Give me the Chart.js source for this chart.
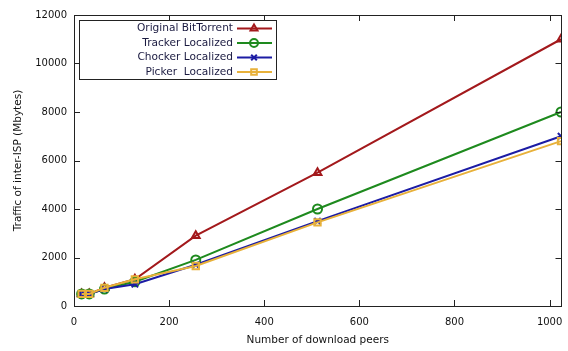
<!DOCTYPE html>
<html>
<head>
<meta charset="utf-8">
<script src="https://cdn.jsdelivr.net/npm/chart.js@4"></script>
<style>
body { margin: 0; background: #fff; }
#wrap { width: 568px; height: 351px; }
</style>
</head>
<body>
<div id="wrap"><canvas id="lineChart"></canvas></div>
<script>
const peers = [16, 32, 64, 128, 256, 512, 1024];
const originalBT = [500, 500, 750, 1100, 2900, 5500, 11000];
const trackerLoc = [500, 500, 700, 1000, 1900, 4000, 8000];
const chockerLoc = [500, 500, 700, 900, 1700, 3500, 7000];
const pickerLoc = [500, 500, 750, 1100, 1650, 3450, 6800];
const xTicks = [0, 200, 400, 600, 800, 1000];
const yTicks = [0, 2000, 4000, 6000, 8000, 10000, 12000];

const FONT = '"DejaVu Sans", sans-serif';
Chart.defaults.font.family = FONT;
Chart.defaults.font.size = 10;
Chart.defaults.color = '#111';

function pts(ys) {
  return peers.map((x, i) => ({ x: x, y: ys[i] }));
}

function series(label, ys, color, style, order) {
  return {
    label: label,
    data: pts(ys),
    borderColor: color,
    backgroundColor: 'rgba(0,0,0,0)',
    borderWidth: 2,
    pointStyle: style,
    pointRadius: 4.5,
    pointBorderWidth: 2,
    pointBorderColor: color,
    order: order
  };
}

// no label overhang padding, the plot box is fixed by layout padding
function noPad(s) {
  s.paddingLeft = s.paddingRight = s.paddingTop = s.paddingBottom = 0;
  s.getPadding = () => ({ left: 0, right: 0, top: 0, bottom: 0 });
}

// inward ticks, full border and the gnuplot style legend
const frame = {
  id: 'frame',
  afterDatasetsDraw(chart) {
    const c = chart.ctx, a = chart.chartArea;
    const xs = chart.scales.x, ys = chart.scales.y;
    c.save();
    c.strokeStyle = '#222';
    c.lineWidth = 1;
    c.beginPath();
    xTicks.forEach(t => {
      const px = Math.round(xs.getPixelForValue(t)) + 0.5;
      c.moveTo(px, a.bottom); c.lineTo(px, a.bottom - 6);
      c.moveTo(px, a.top); c.lineTo(px, a.top + 6);
    });
    yTicks.forEach(t => {
      const py = Math.round(ys.getPixelForValue(t)) + 0.5;
      c.moveTo(a.left, py); c.lineTo(a.left + 6, py);
      c.moveTo(a.right, py); c.lineTo(a.right - 6, py);
    });
    c.stroke();
    c.strokeRect(Math.round(a.left) + 0.5, Math.round(a.top) + 0.5,
      Math.round(a.right - a.left) - 1, Math.round(a.bottom - a.top));

    // legend
    c.fillStyle = '#fff';
    c.fillRect(79.5, 20.5, 197, 59);
    c.strokeRect(79.5, 20.5, 197, 59);
    c.font = '10.6px ' + FONT;
    c.textAlign = 'right';
    c.textBaseline = 'middle';
    const rowY = [28.5, 43, 57.5, 72];
    chart.data.datasets.forEach((ds, r) => {
      const y = rowY[r];
      c.fillStyle = '#1a1a40';
      c.fillText(ds.label, 233, y);
      c.strokeStyle = ds.borderColor;
      c.lineWidth = 2;
      c.beginPath();
      c.moveTo(237, y); c.lineTo(272, y);
      c.stroke();
      c.fillStyle = 'rgba(0,0,0,0)';
      Chart.helpers.drawPoint(c, {
        pointStyle: ds.pointStyle, radius: 4, rotation: 0,
        borderWidth: 2
      }, 254, y);
    });
    c.restore();
  }
};

const ctx = document.getElementById('lineChart');

new Chart(ctx, {
  type: 'line',
  data: {
    datasets: [
      series('Original BitTorrent', originalBT, '#a3191c', 'triangle', 4),
      series('Tracker Localized', trackerLoc, '#1e8a1e', 'circle', 3),
      series('Chocker Localized', chockerLoc, '#1c1ca4', 'crossRot', 2),
      series('Picker  Localized', pickerLoc, '#e8b13a', 'rect', 1)
    ]
  },
  options: {
    responsive: true,
    maintainAspectRatio: false,
    animation: false,
    layout: { padding: { top: 15, right: 2, left: 8, bottom: 0 } },
    plugins: {
      legend: { display: false },
      tooltip: { enabled: false }
    },
    scales: {
      x: {
        type: 'linear',
        min: 0,
        max: 1025,
        afterBuildTicks(s) { s.ticks = xTicks.map(v => ({ value: v })); },
        afterFit(s) { s.height = 45; noPad(s); },
        grid: { display: false, drawTicks: false },
        border: { display: false },
        ticks: { padding: 10, callback: v => String(v) },
        title: { display: true, text: 'Number of download peers', font: { size: 10.5 }, padding: { top: 4 } }
      },
      y: {
        min: 0,
        max: 12000,
        afterBuildTicks(s) { s.ticks = yTicks.map(v => ({ value: v })); },
        afterFit(s) { s.width = 66; noPad(s); },
        grid: { display: false, drawTicks: false },
        border: { display: false },
        ticks: { padding: 7, callback: v => String(v) },
        title: { display: true, text: 'Traffic of inter-ISP (Mbytes)', font: { size: 10.5 }, padding: { bottom: 2 } }
      }
    }
  },
  plugins: [frame]
});
</script>
</body>
</html>
